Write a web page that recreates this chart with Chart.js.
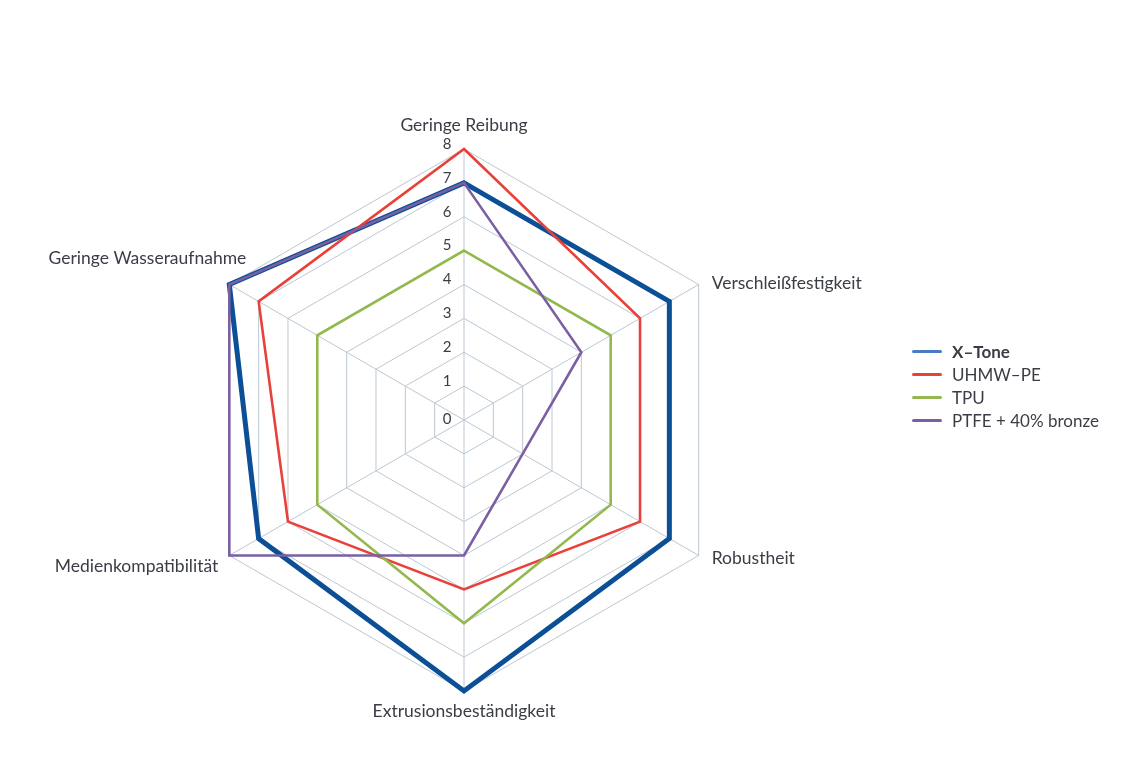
<!DOCTYPE html>
<html>
<head>
<meta charset="utf-8">
<script src="https://cdn.jsdelivr.net/npm/chart.js@4.4.1/dist/chart.umd.min.js"></script>
<style>
    html, body { margin: 0; padding: 0; background: #ffffff; }
    #wrap { position: relative; width: 1140px; height: 761px; }
    #legend { position: absolute; left: 912px; top: 340px; font-family: Lato, sans-serif; font-size: 17px; color: #3a3d45; }
    .legend-row { display: flex; align-items: center; height: 23px; }
    .legend-line { width: 30px; height: 3px; border-radius: 2px; margin-right: 10px; }
</style>
</head>
<body>
<div id="wrap">
    <canvas id="chart" width="1140" height="761"></canvas>
    <div id="legend"></div>
</div>
<script>
const categories = ['Geringe Reibung', 'Verschleißfestigkeit', 'Robustheit', 'Extrusionsbeständigkeit', 'Medienkompatibilität', 'Geringe Wasseraufnahme']
const series_names = ['X–Tone', 'UHMW–PE', 'TPU', 'PTFE + 40% bronze']
const x_tone = [7, 7, 7, 8, 7, 8]
const uhmw_pe = [8, 6, 6, 5, 6, 7]
const tpu = [5, 5, 5, 6, 5, 5]
const ptfe_bronze = [7, 4, 2, 4, 8, 8]
const tick_values = [0, 1, 2, 3, 4, 5, 6, 7, 8]

const line_colors = ['#0b4f96', '#e8413a', '#93b84d', '#7a60a2']
const legend_colors = ['#4a7cc0', '#e8413a', '#93b84d', '#7a60a2']
const line_widths = [5, 2.6, 2.6, 2.6]
const text_color = '#3a3d45'

// labels drawn by hand so they can sit where the original puts them
const label_plugin = {
    id: 'labels',
    afterDraw(chart) {
        let scale = chart.scales.r
        let ctx = chart.ctx
        ctx.save()
        ctx.fillStyle = text_color
        ctx.font = '15px Lato, sans-serif'
        ctx.textAlign = 'center'
        ctx.textBaseline = 'middle'
        for (let i = 0; i < tick_values.length; i ++) {
            let d = scale.getDistanceFromCenterForValue(tick_values[i])
            let dy = tick_values[i] == 0 ? -1 : -5
            ctx.fillText(String(tick_values[i]), scale.xCenter - 17, scale.yCenter - d + dy)
        }

        ctx.font = '17.5px Lato, sans-serif'
        let r = scale.drawingArea
        for (let i = 0; i < categories.length; i ++) {
            let p = scale.getPointPosition(i, r)
            let x = p.x
            let y = p.y
            if (i == 0) { ctx.textAlign = 'center'; y -= 24 }
            else if (i == 1) { ctx.textAlign = 'left'; x += 13; y -= 1 }
            else if (i == 2) { ctx.textAlign = 'left'; x += 13; y += 3 }
            else if (i == 3) { ctx.textAlign = 'center'; y += 20 }
            else if (i == 4) { ctx.textAlign = 'right'; x -= 11; y += 11 }
            else { ctx.textAlign = 'right'; x += 17; y -= 26 }
            ctx.fillText(categories[i], x, y)
        }
        ctx.restore()
    }
}

const all_values = [x_tone, uhmw_pe, tpu, ptfe_bronze]
let datasets = []
for (let i = 0; i < all_values.length; i ++) {
    datasets.push({
        label: series_names[i],
        data: all_values[i],
        borderColor: line_colors[i],
        borderWidth: line_widths[i],
        backgroundColor: 'transparent',
        fill: false,
        pointRadius: 0,
        pointHoverRadius: 0,
        borderJoinStyle: 'miter',
        order: all_values.length - i
    })
}

new Chart(document.getElementById('chart'), {
    type: 'radar',
    data: { labels: categories, datasets: datasets },
    options: {
        responsive: false,
        animation: false,
        layout: { padding: { left: 193, right: 405, top: 149, bottom: 70 } },
        plugins: { legend: { display: false }, tooltip: { enabled: false } },
        elements: { line: { tension: 0 } },
        scales: {
            r: {
                min: 0,
                max: 8,
                ticks: { display: false, stepSize: 1 },
                grid: { color: '#bcc7d1', lineWidth: 1 },
                angleLines: { color: '#bcc7d1', lineWidth: 1 },
                pointLabels: { display: false }
            }
        }
    },
    plugins: [label_plugin]
})

let legend = document.getElementById('legend')
for (let i = 0; i < series_names.length; i ++) {
    let weight = i == 0 ? 'bold' : 'normal'
    legend.insertAdjacentHTML('beforeend',
    `<div class="legend-row">
        <div class="legend-line" style="background: ${legend_colors[i]}"></div>
        <span style="font-weight: ${weight}">${series_names[i]}</span>
    </div>`)
}
</script>
</body>
</html>
